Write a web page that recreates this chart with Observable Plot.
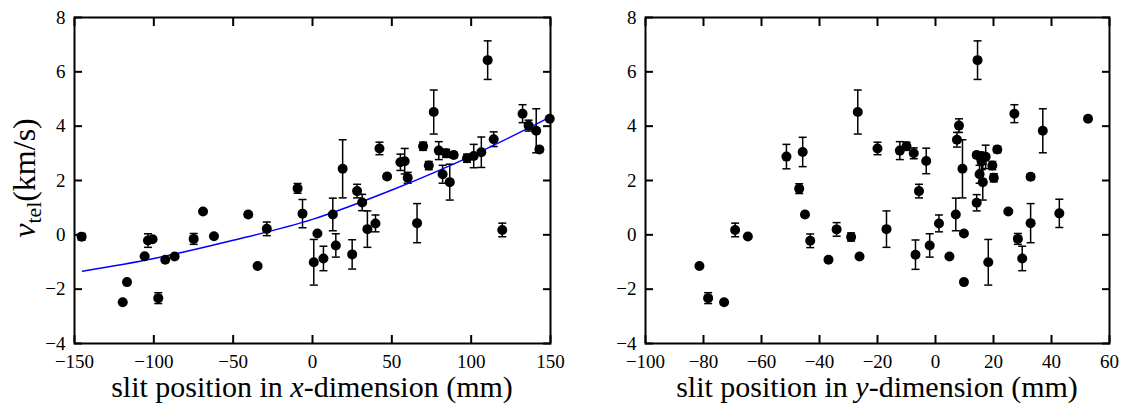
<!DOCTYPE html>
<html><head><meta charset="utf-8">
<script src="https://cdn.jsdelivr.net/npm/d3@7"></script>
<script src="https://cdn.jsdelivr.net/npm/@observablehq/plot@0.6"></script>
<style>
body{margin:0;background:#fff}
#wrap{position:relative;width:1138px;height:404px;font-family:"Times New Roman",Times,"Liberation Serif","DejaVu Serif",serif;color:#000;overflow:hidden}
.panel{position:absolute;top:0}
.xt{position:absolute;top:372px;font-size:30px;line-height:30px;white-space:nowrap;transform:translateX(-50%)}
.yl{position:absolute;left:24px;top:178px;font-size:32px;line-height:32px;white-space:nowrap;transform:translate(-50%,-50%) rotate(-90deg)}
.yl sub{font-size:0.68em;vertical-align:-0.28em;line-height:0}
</style>
</head><body>
<div id="wrap">
  <div id="left" class="panel" style="left:0"></div>
  <div id="right" class="panel" style="left:570px"></div>
  <div class="yl"><i>v</i><sub>tel</sub>(km/s)</div>
  <div class="xt" style="left:312px">slit position in <i>x</i>-dimension (mm)</div>
  <div class="xt" style="left:877px">slit position in <i>y</i>-dimension (mm)</div>
</div>
<script>
// Left panel: slit position in x-dimension (mm), velocity (km/s), error
const xLeft = [-145.5, -119.6, -116.9, -105.8, -103.7, -100.8, -97.2, -92.8, -86.9, -74.9, -69, -62.1, -40.5, -34.6, -28.8, -9.4, -6.3, 0.8, 3.1, 6.9, 12.8, 14.7, 19, 25, 28.1, 31.3, 34.6, 39.7, 42.2, 47, 55.4, 58.1, 60, 65.9, 69.7, 73.3, 76.4, 79.6, 82, 84.2, 86.5, 89, 97.4, 101.6, 106.4, 110.4, 114.2, 119.6, 132.4, 136.2, 141, 143, 149.5];
const vLeft = [-0.07, -2.48, -1.74, -0.79, -0.21, -0.16, -2.33, -0.92, -0.8, -0.15, 0.86, -0.05, 0.75, -1.15, 0.22, 1.71, 0.78, -1.01, 0.05, -0.87, 0.75, -0.39, 2.43, -0.72, 1.61, 1.19, 0.21, 0.42, 3.18, 2.15, 2.67, 2.71, 2.1, 0.43, 3.26, 2.55, 4.52, 3.1, 2.23, 3.0, 1.94, 2.94, 2.82, 2.9, 3.04, 6.43, 3.52, 0.18, 4.46, 4.02, 3.83, 3.14, 4.27];
const eLeft = [0.12, 0, 0, 0, 0.25, 0.08, 0.2, 0, 0, 0.2, 0, 0, 0.1, 0, 0.25, 0.18, 0.52, 0.84, 0, 0.45, 0.6, 0.43, 1.07, 0.54, 0.25, 0.3, 0.67, 0.31, 0.23, 0.1, 0.3, 0.47, 0.2, 0.72, 0.15, 0.15, 0.81, 0.33, 0.33, 0.15, 0.66, 0.1, 0.15, 0.43, 0.56, 0.71, 0.27, 0.25, 0.33, 0.2, 0.81, 0.1, 0];

// Fit curve
const fitX = [-145, -100, -50, 0, 50, 100, 150];
const fitY = [-1.34, -0.87, -0.2, 0.57, 1.65, 2.9, 4.34];

// Right panel: slit position in y-dimension (mm)
const xRight = [-81.4, -78.4, -72.9, -69.1, -64.7, -51.4, -47, -45.8, -45, -43.2, -36.9, -34.1, -29.1, -26.8, -26.2, -20, -16.9, -12.3, -10, -7.5, -6.9, -5.7, -3.2, -2, 1.2, 4.8, 7, 7.4, 8.1, 9.3, 9.8, 9.8, 14.2, 14.5, 14.2, 15.5, 17.3, 15.2, 15.9, 16.3, 18.2, 19.6, 20.1, 21.3, 25.1, 27.2, 28.4, 29.9, 32.8, 32.8, 37, 42.7, 52.6];
const vRight = [-1.15, -2.33, -2.48, 0.18, -0.06, 2.88, 1.7, 3.05, 0.75, -0.22, -0.92, 0.2, -0.08, 4.52, -0.8, 3.18, 0.21, 3.1, 3.26, 3.0, -0.73, 1.61, 2.72, -0.39, 0.42, -0.8, 0.75, 3.5, 4.02, 2.43, 0.05, -1.74, 1.18, 6.43, 2.94, 2.9, 2.87, 2.23, 2.7, 1.94, -1.01, 2.55, 2.1, 3.14, 0.86, 4.46, -0.15, -0.87, 0.43, 2.14, 3.83, 0.79, 4.27];
const eRight = [0, 0.2, 0, 0.25, 0, 0.45, 0.18, 0.54, 0.1, 0.25, 0, 0.25, 0.15, 0.81, 0, 0.23, 0.67, 0.33, 0.15, 0.2, 0.54, 0.25, 0.47, 0.43, 0.31, 0, 0.6, 0.27, 0.25, 1.07, 0, 0, 0.3, 0.71, 0.1, 0.15, 0.43, 0.33, 0.3, 0.66, 0.84, 0.15, 0.15, 0.12, 0, 0.33, 0.2, 0.45, 0.72, 0.1, 0.81, 0.52, 0];

const xTicksLeft = [-150, -100, -50, 0, 50, 100, 150];
const xTicksRight = [-100, -80, -60, -40, -20, 0, 20, 40, 60];
const yTicks = [-4, -2, 0, 2, 4, 6, 8];

const FONT = '"Times New Roman", Times, "Liberation Serif", "DejaVu Serif", serif';
const cap = {draw(ctx, size) { const r = Math.sqrt(size / Math.PI); ctx.moveTo(-r, 0); ctx.lineTo(r, 0); }};

function panel(xs, vs, es, xDomain, xTicks, width, ml, mr, fit) {
  const pts = xs.map((x, i) => ({x, v: vs[i], e: es[i]}));
  const bars = pts.filter(d => d.e > 0);
  const none = () => "";
  const marks = [
    Plot.ruleX(bars, {x: "x", y1: d => d.v - d.e, y2: d => d.v + d.e, stroke: "black", strokeWidth: 1.5}),
    Plot.dot(bars, {x: "x", y: d => d.v - d.e, symbol: cap, r: 4, stroke: "black", strokeWidth: 1.5, fill: "none"}),
    Plot.dot(bars, {x: "x", y: d => d.v + d.e, symbol: cap, r: 4, stroke: "black", strokeWidth: 1.5, fill: "none"})
  ];
  if (fit) {
    const fd = fit[0].map((x, i) => ({x, y: fit[1][i]}));
    marks.push(Plot.line(fd, {x: "x", y: "y", curve: "catmull-rom", stroke: "blue", strokeWidth: 1.4}));
  }
  marks.push(
    Plot.dot(pts, {x: "x", y: "v", r: 5, fill: "black"}),
    Plot.axisX(xTicks, {anchor: "bottom", tickSize: 0, tickPadding: 11, fontSize: 19, label: null}),
    Plot.axisX(xTicks, {anchor: "bottom", tickSize: 8, dy: -8, strokeWidth: 2, tickFormat: none, label: null}),
    Plot.axisX(xTicks, {anchor: "top", tickSize: 8, dy: 8, strokeWidth: 2, tickFormat: none, label: null}),
    Plot.axisY(yTicks, {anchor: "left", tickSize: 0, tickPadding: 9, fontSize: 19, label: null}),
    Plot.axisY(yTicks, {anchor: "left", tickSize: 8, dx: 8, strokeWidth: 2, tickFormat: none, label: null}),
    Plot.axisY(yTicks, {anchor: "right", tickSize: 8, dx: -8, strokeWidth: 2, tickFormat: none, label: null}),
    Plot.frame({stroke: "black", strokeWidth: 2})
  );
  return Plot.plot({
    width, height: 404,
    marginLeft: ml, marginRight: mr, marginTop: 17, marginBottom: 61,
    x: {domain: xDomain},
    y: {domain: [-4, 8]},
    style: {fontFamily: FONT, color: "black", background: "white", overflow: "visible"},
    marks
  });
}

document.getElementById("left").append(panel(xLeft, vLeft, eLeft, [-150, 150], xTicksLeft, 570, 74, 20, [fitX, fitY]));
document.getElementById("right").append(panel(xRight, vRight, eRight, [-100, 60], xTicksRight, 568, 75, 29, null));
</script>
</body></html>
